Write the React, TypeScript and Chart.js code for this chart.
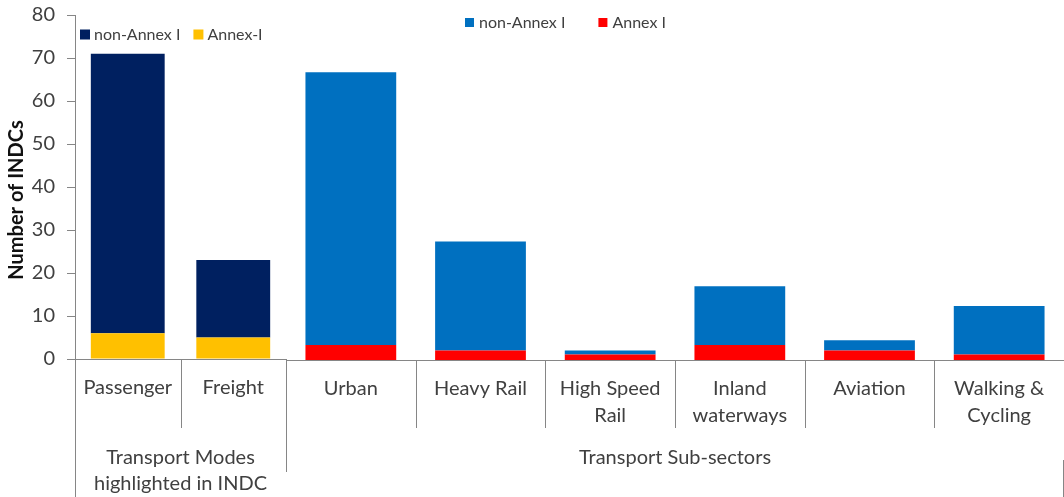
import React, { useEffect, useRef } from 'react';
import { Chart, registerables } from 'chart.js';

Chart.register(...registerables);

// ---------- data ----------
const modeLabels = ['Passenger', 'Freight'];
const modeNonAnnex = [65, 18];
const modeAnnex = [6, 5];

const subLabels: (string | string[])[] = [
  'Urban',
  'Heavy Rail',
  ['High Speed', 'Rail'],
  ['Inland', 'waterways'],
  'Aviation',
  ['Walking &', 'Cycling'],
];
const subNonAnnex = [63.2, 25.3, 0.9, 13.6, 2.4, 11.2];
const subAnnex = [3.5, 2.2, 1.3, 3.5, 2.2, 1.3];

const modeGroupLabel = ['Transport Modes', 'highlighted in INDC'];
const subGroupLabel = ['Transport Sub-sectors'];

const yMin = 0;
const yMax = 80;
const yStep = 10;
const yTitle = 'Number of INDCs';

// ---------- styles ----------
const FONT = 'Lato, "Noto Sans", sans-serif';
const AXIS = '#868686';
const TEXT = '#404040';

type DecorCfg = {
  name: string;
  innerDrop: number;
  leftFull: boolean;
  rightDrop: number;
  rightFromTo?: [number, number];
  group: string[];
  groupY: number;
  groupLine: number;
  yTitle: boolean;
  legend: { x: number; y: number; box: number; textGap: number; itemGap: number; size: number };
};

function decorPlugin(cfg: DecorCfg) {
  return {
    id: 'decor_' + cfg.name,
    afterDraw(chart: any) {
      const { ctx, chartArea: a, height } = chart;
      const n = chart.data.labels.length;
      const w = (a.right - a.left) / n;
      const px = (v: number) => Math.round(v) + 0.5;
      ctx.save();
      ctx.strokeStyle = AXIS;
      ctx.lineWidth = 1;
      ctx.beginPath();
      ctx.moveTo(a.left, px(a.bottom));
      ctx.lineTo(a.right, px(a.bottom));
      for (let i = 1; i < n; i++) {
        const xx = px(a.left + i * w);
        ctx.moveTo(xx, a.bottom);
        ctx.lineTo(xx, a.bottom + cfg.innerDrop);
      }
      if (cfg.leftFull) {
        ctx.moveTo(px(a.left), a.top);
        ctx.lineTo(px(a.left), height);
      }
      if (cfg.rightDrop > 0) {
        ctx.moveTo(px(a.right), a.bottom);
        ctx.lineTo(px(a.right), a.bottom + cfg.rightDrop);
      }
      if (cfg.rightFromTo) {
        ctx.moveTo(px(a.right - 1), a.bottom + cfg.rightFromTo[0]);
        ctx.lineTo(px(a.right - 1), a.bottom + cfg.rightFromTo[1]);
      }
      ctx.stroke();

      // group labels
      ctx.fillStyle = TEXT;
      ctx.font = `20px ${FONT}`;
      ctx.textAlign = 'center';
      ctx.textBaseline = 'middle';
      const cx = (a.left + a.right) / 2;
      cfg.group.forEach((t, i) => {
        ctx.fillText(t, cx, a.bottom + cfg.groupY + i * cfg.groupLine);
      });

      // y title
      if (cfg.yTitle) {
        ctx.save();
        ctx.translate(a.left - 58, (a.top + a.bottom) / 2 + 13);
        ctx.rotate(-Math.PI / 2);
        ctx.font = `bold 20px ${FONT}`;
        ctx.fillStyle = '#111';
        ctx.textAlign = 'center';
        ctx.textBaseline = 'middle';
        ctx.fillText(yTitle, 0, 0);
        ctx.restore();
      }

      // legend (non-Annex first, then Annex)
      const L = cfg.legend;
      const items = chart.data.datasets.slice().reverse();
      let lx = L.x;
      ctx.font = `${L.size}px ${FONT}`;
      ctx.textAlign = 'left';
      ctx.textBaseline = 'middle';
      items.forEach((ds: any) => {
        ctx.fillStyle = ds.backgroundColor;
        ctx.fillRect(lx, L.y - L.box / 2, L.box, L.box);
        ctx.fillStyle = TEXT;
        ctx.fillText(ds.label, lx + L.box + L.textGap, L.y);
        lx += L.box + L.textGap + ctx.measureText(ds.label).width + L.itemGap;
      });
      ctx.restore();
    },
  };
}

function baseOptions(xHeight: number, showY: boolean, padTop: number, padRight: number) {
  return {
    responsive: false,
    animation: false as const,
    layout: { padding: { top: padTop, right: padRight, left: 0, bottom: 0 } },
    plugins: { legend: { display: false }, tooltip: { enabled: false }, title: { display: false } },
    datasets: { bar: { categoryPercentage: 1, barPercentage: 0.7 } },
    scales: {
      x: {
        stacked: true,
        grid: { display: false, drawTicks: false },
        border: { display: false },
        ticks: {
          font: { family: FONT, size: 20, lineHeight: 1.35 },
          color: TEXT,
          padding: 15,
          maxRotation: 0,
          autoSkip: false,
        },
        afterFit: (s: any) => {
          s.height = xHeight;
        },
      },
      y: {
        display: showY,
        stacked: true,
        min: yMin,
        max: yMax,
        ticks: { stepSize: yStep, font: { family: FONT, size: 20 }, color: TEXT, padding: 12 },
        grid: { drawOnChartArea: false, tickLength: 8, color: AXIS },
        border: { display: false },
        afterFit: (s: any) => {
          s.width = showY ? 75 : 0;
          s.paddingTop = 0;
          s.paddingBottom = 0;
        },
      },
    },
  };
}

export default function App() {
  const r1 = useRef<HTMLCanvasElement>(null);
  const r2 = useRef<HTMLCanvasElement>(null);

  useEffect(() => {
    const c1 = new Chart(r1.current as HTMLCanvasElement, {
      type: 'bar',
      data: {
        labels: modeLabels,
        datasets: [
          { label: 'Annex-I', data: modeAnnex, backgroundColor: '#FFC000' },
          { label: 'non-Annex I', data: modeNonAnnex, backgroundColor: '#002060' },
        ],
      },
      options: baseOptions(138, true, 15, 4) as any,
      plugins: [
        decorPlugin({
          name: 'modes',
          innerDrop: 69,
          leftFull: true,
          rightDrop: 113,
          group: modeGroupLabel,
          groupY: 98.5,
          groupLine: 26,
          yTitle: true,
          legend: { x: 80, y: 34.5, box: 10, textGap: 4, itemGap: 13, size: 16 },
        }),
      ],
    });

    const c2 = new Chart(r2.current as HTMLCanvasElement, {
      type: 'bar',
      data: {
        labels: subLabels,
        datasets: [
          { label: 'Annex I', data: subAnnex, backgroundColor: '#FF0000' },
          { label: 'non-Annex I', data: subNonAnnex, backgroundColor: '#0070C0' },
        ],
      },
      options: baseOptions(137, false, 15, 0) as any,
      plugins: [
        decorPlugin({
          name: 'subs',
          innerDrop: 68,
          leftFull: false,
          rightDrop: 0,
          rightFromTo: [100, 137],
          group: subGroupLabel,
          groupY: 98,
          groupLine: 26,
          yTitle: false,
          legend: { x: 179, y: 22.5, box: 9, textGap: 5, itemGap: 33, size: 16 },
        }),
      ],
    });

    return () => {
      c1.destroy();
      c2.destroy();
    };
  }, []);

  return (
    <div style={{ position: 'absolute', left: 0, top: 0, width: 1064, height: 497, background: '#fff', overflow: 'hidden' }}>
      <canvas ref={r1} width={290} height={497} style={{ position: 'absolute', left: 0, top: 0 }} />
      <canvas ref={r2} width={778} height={497} style={{ position: 'absolute', left: 286, top: 0 }} />
    </div>
  );
}
